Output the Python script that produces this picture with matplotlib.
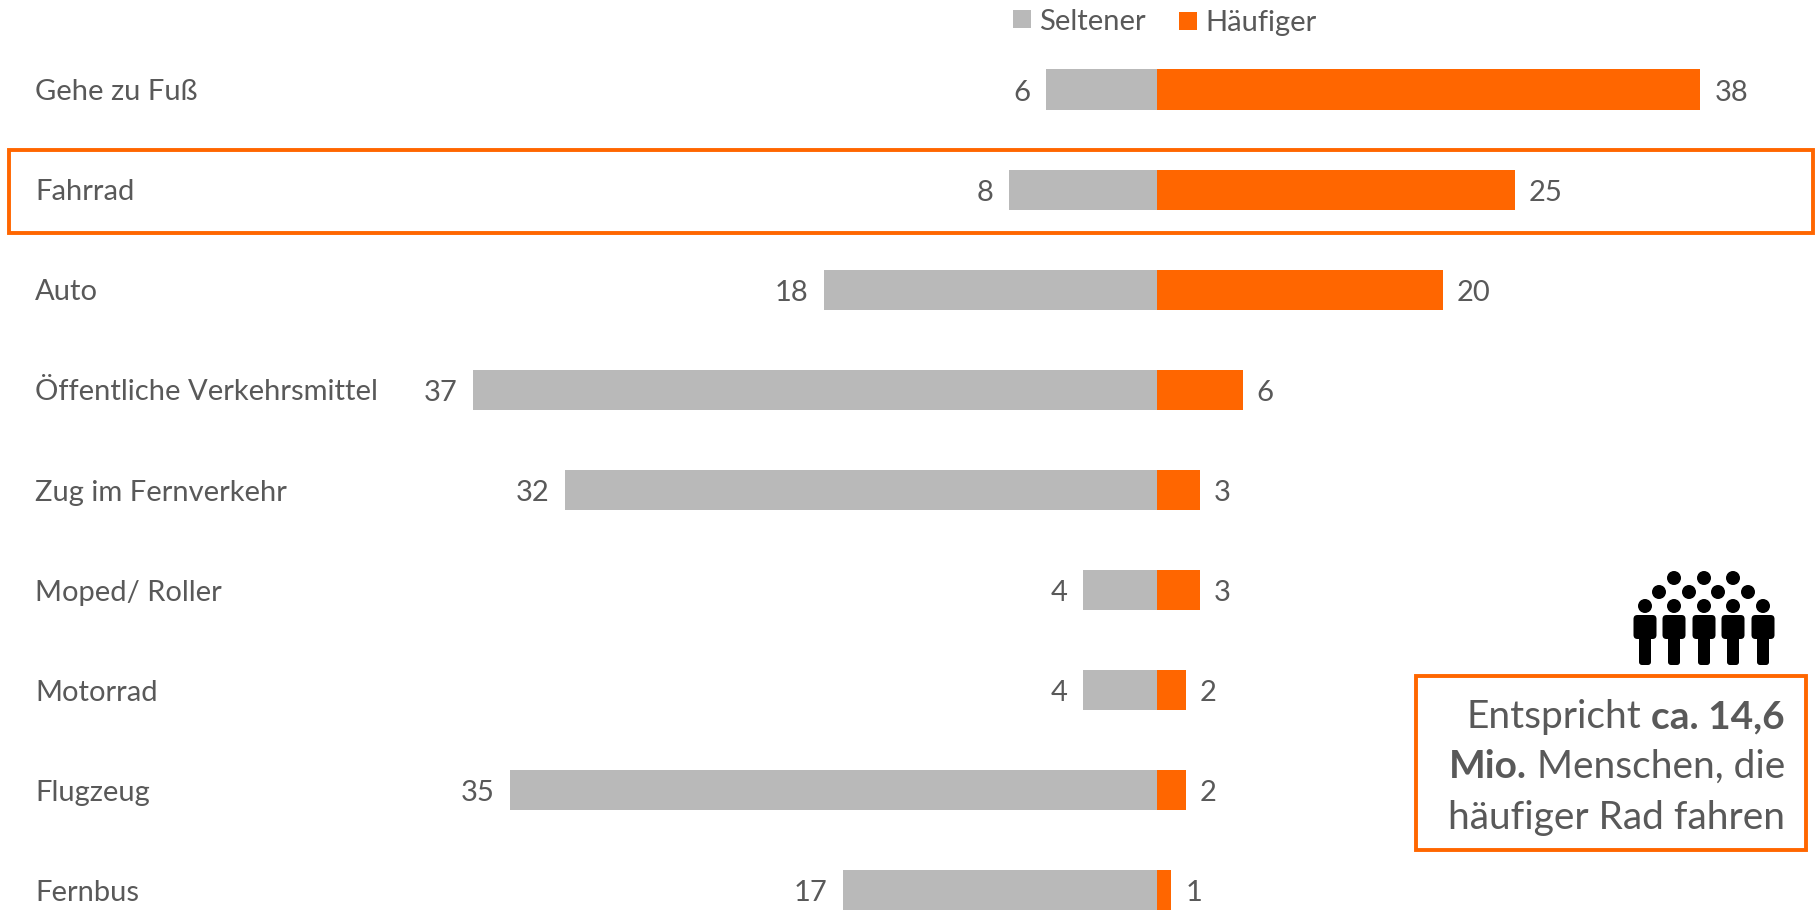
#!/usr/bin/env python3
"""Verkehrsmittel seltener / haeufiger genutzt - diverging bar chart with callout."""

import matplotlib
matplotlib.use("Agg")
import matplotlib.pyplot as plt
from matplotlib.patches import Circle, FancyBboxPatch, Rectangle
from matplotlib.transforms import blended_transform_factory

plt.rcParams['font.family'] = ['Lato', 'DejaVu Sans']

categories = ['Gehe zu Fuß', 'Fahrrad', 'Auto', 'Öffentliche Verkehrsmittel',
              'Zug im Fernverkehr', 'Moped/ Roller', 'Motorrad', 'Flugzeug', 'Fernbus']
seltener = [6, 8, 18, 37, 32, 4, 4, 35, 17]
haeufiger = [38, 25, 20, 6, 3, 3, 2, 2, 1]

ORANGE = '#FF6600'
GREY = '#B9B9B9'
TEXT = '#595959'
W, H = 1819, 912
CENTER = 1157
FS = 21

fig = plt.figure(figsize=(W / 100, H / 100), dpi=100)

# The two sides have their own scale, so they get their own axes meeting at the centre line
left = fig.add_axes([0, 0, CENTER / W, 1])
right = fig.add_axes([CENTER / W, 0, 1 - CENTER / W, 1])
left.set_xlim(CENTER / 18.5, 0)
right.set_xlim(0, (W - CENTER) / 14.3)

rows = list(range(len(categories)))
row_step = 100.1
first_row = 90.5
for ax in (left, right):
    ax.set_ylim((H - first_row) / row_step, -first_row / row_step)
    ax.axis('off')

left.barh(rows, seltener, height=0.4, color=GREY)
right.barh(rows, haeufiger, height=0.4, color=ORANGE)

# Value labels sit a little below the bar centre
for i, (low, high) in enumerate(zip(seltener, haeufiger)):
    left.annotate(str(low), (low, i), xytext=(-11, -1.5), textcoords='offset points',
                  ha='right', va='center', fontsize=FS, color=TEXT)
    right.annotate(str(high), (high, i), xytext=(10, -1.5), textcoords='offset points',
                   ha='left', va='center', fontsize=FS, color=TEXT)

label_tf = blended_transform_factory(left.transAxes, left.transData)
for i, name in enumerate(categories):
    left.annotate(name, (35 / CENTER, i), xycoords=label_tf, xytext=(0, -1.2),
                  textcoords='offset points', ha='left', va='center',
                  fontsize=FS, color=TEXT)

# Everything else is placed on a full-figure overlay in pixel units
over = fig.add_axes([0, 0, 1, 1])
over.set_xlim(0, W)
over.set_ylim(H, 0)
over.axis('off')

# legend
over.add_patch(Rectangle((1013, 11), 18, 18, color=GREY, lw=0))
over.add_patch(Rectangle((1179, 13), 18, 18, color=ORANGE, lw=0))
over.text(1039, 22, 'Seltener', ha='left', va='center', fontsize=FS, color=TEXT)
over.text(1205, 23, 'Häufiger', ha='left', va='center', fontsize=FS, color=TEXT)

# highlight around the Fahrrad row
over.add_patch(Rectangle((9, 151), 1804, 83, fill=False, ec=ORANGE, lw=2.8))

# callout box
over.add_patch(Rectangle((1416, 677), 390, 174, fill=False, ec=ORANGE, lw=2.8))


def right_aligned(y, parts, x=1785, size=28):
    """Draw (text, weight) parts as one right-aligned line, last part first."""
    renderer = fig.canvas.get_renderer()
    for text, weight in reversed(parts):
        t = over.text(x, y, text, ha='right', va='baseline', fontsize=size,
                      fontweight=weight, color=TEXT)
        x = t.get_window_extent(renderer).x0 - 10


right_aligned(728, [('Entspricht', 'normal'), ('ca. 14,6', 'bold')])
right_aligned(778, [('Mio.', 'bold'), ('Menschen, die', 'normal')])
right_aligned(829, [('häufiger Rad fahren', 'normal')])

# people icon above the callout
for x in (1645, 1674, 1704, 1733, 1763):
    over.add_patch(Circle((x, 607), 7, color='black', lw=0))
    over.add_patch(FancyBboxPatch((x - 9.5, 618), 19, 20, boxstyle='round,pad=2,rounding_size=4',
                                  color='black', lw=0))
    over.add_patch(FancyBboxPatch((x - 4, 630), 8, 34, boxstyle='round,pad=2,rounding_size=3',
                                  color='black', lw=0))
for x in (1659, 1689, 1718, 1748):
    over.add_patch(Circle((x, 593), 7, color='black', lw=0))
for x in (1674, 1704, 1733):
    over.add_patch(Circle((x, 579), 7, color='black', lw=0))

fig.savefig('out.png', dpi=100)
